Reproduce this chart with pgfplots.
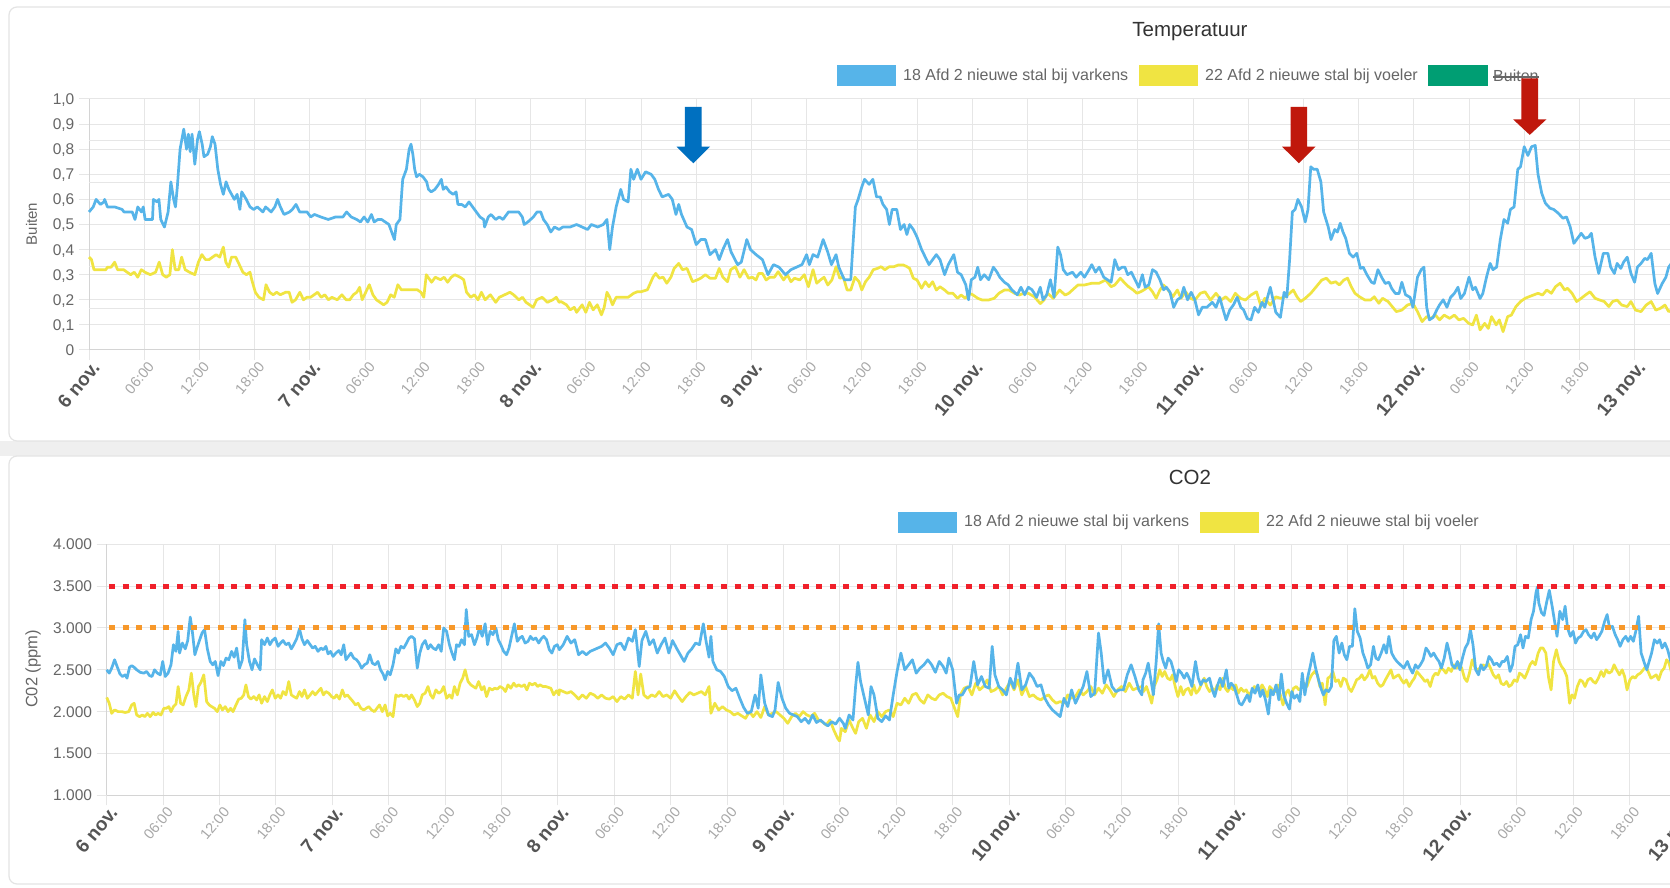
\documentclass[border=0pt]{standalone}
\usepackage{pgfplots}
\pgfplotsset{compat=1.18}
\usepackage{fontspec}
\setmainfont{Liberation Sans}
\definecolor{sky}{HTML}{56B4E9}
\definecolor{yel}{HTML}{F0E442}
\definecolor{grn}{HTML}{009E73}
\definecolor{gridc}{HTML}{E6E6E6}
\definecolor{axisc}{HTML}{D4D4D4}
\definecolor{labc}{HTML}{666666}
\definecolor{hourc}{HTML}{A8A8A8}
\definecolor{dayc}{HTML}{555555}
\definecolor{titc}{HTML}{333333}
\definecolor{thr}{HTML}{F0202A}
\definecolor{thro}{HTML}{F7982A}
\definecolor{arrb}{HTML}{0070C0}
\definecolor{arrr}{HTML}{C0180C}
\definecolor{cardc}{HTML}{E4E4E4}
\definecolor{bandc}{HTML}{EFEFEF}
\newcommand\Dl[1]{{\fontsize{19}{19}\selectfont\bfseries\color{dayc}#1}}
\newcommand\Hl[1]{{\fontsize{14.5}{14.5}\selectfont\color{hourc}#1}}
\pgfplotsset{
  chart/.style={
    scale only axis, clip=false,
    axis x line*=bottom, axis y line*=left,
    axis line style={-, draw=axisc, line width=1pt},
    xmin=0, xmax=180,
    xtick={0,6,...,180},
    xticklabels={\Dl{6 nov.},\Hl{06:00},\Hl{12:00},\Hl{18:00},\Dl{7 nov.},\Hl{06:00},\Hl{12:00},\Hl{18:00},\Dl{8 nov.},\Hl{06:00},\Hl{12:00},\Hl{18:00},\Dl{9 nov.},\Hl{06:00},\Hl{12:00},\Hl{18:00},\Dl{10 nov.},\Hl{06:00},\Hl{12:00},\Hl{18:00},\Dl{11 nov.},\Hl{06:00},\Hl{12:00},\Hl{18:00},\Dl{12 nov.},\Hl{06:00},\Hl{12:00},\Hl{18:00},\Dl{13 nov.},\Hl{06:00},\Hl{12:00},\Hl{18:00}},
    xmajorgrids, ymajorgrids,
    major grid style={draw=gridc, line width=1pt},
    tick align=outside, major tick length=10pt,
    tick style={draw=gridc, line width=1pt},
    xticklabel style={xshift=7pt, yshift=-4pt, rotate=50, anchor=east, inner sep=0pt},
    yticklabel style={font=\fontsize{15.5}{15.5}\selectfont, text=labc, anchor=east, inner sep=0pt, xshift=-4.5pt, text height=11pt, text depth=0pt},
  },
  dl/.style={line width=2.7pt, line join=round}
}
\begin{document}
\begin{tikzpicture}[x=1pt,y=1pt]
\fill[white] (0,0) rectangle (1670,887);
\fill[bandc] (0,431) rectangle (1670,446);
\draw[cardc, line width=1.2pt, rounded corners=8pt, fill=white] (9,446) rectangle (1720,880);
\draw[cardc, line width=1.2pt, rounded corners=8pt, fill=white] (9,3) rectangle (1720,431);
% titles
\node[font=\fontsize{20.5}{20.5}\selectfont, text=titc] at (1190,855.5) {Temperatuur};
\node[font=\fontsize{20.5}{20.5}\selectfont, text=titc] at (1190,409.5) {CO2};
% legends
\tikzset{lg/.style={anchor=west, inner sep=0pt, font=\fontsize{16}{16}\selectfont, text=labc, text height=11.5pt, text depth=3.4pt}}
\fill[sky] (837,800.5) rectangle (896,821.5);
\node[lg] at (903,811) {18 Afd 2 nieuwe stal bij varkens};
\fill[yel] (1139,800.5) rectangle (1198,821.5);
\node[lg] at (1205,811) {22 Afd 2 nieuwe stal bij voeler};
\fill[grn] (1428,800.5) rectangle (1488,821.5);
\node[lg, text depth=0pt] (bt) at (1493,811) {Buiten};
\draw[labc, line width=1.3pt] ([yshift=-1pt]bt.west) -- ([yshift=-1pt]bt.east);
\fill[sky] (898,354) rectangle (957,374.5);
\node[lg] at (964,364.3) {18 Afd 2 nieuwe stal bij varkens};
\fill[yel] (1200,354) rectangle (1259,374.5);
\node[lg] at (1266,364.3) {22 Afd 2 nieuwe stal bij voeler};
% axis titles
\node[rotate=90, font=\fontsize{15}{15}\selectfont, text=labc] at (31.5,663) {Buiten};
\node[rotate=90, font=\fontsize{16.5}{16.5}\selectfont, text=labc] at (33,218) {C02 (ppm)};
% ---------------- top chart ----------------
\begin{axis}[chart, at={(89pt,537pt)}, anchor=south west, width=1656pt, height=251pt,
  ymin=0, ymax=1, ytick={0,0.1,0.2,0.3,0.4,0.5,0.6,0.7,0.8,0.9,1},
  yticklabels={0,{0,1},{0,2},{0,3},{0,4},{0,5},{0,6},{0,7},{0,8},{0,9},{1,0}},
  extra y ticks={0.16667,0.33333,0.66667,0.83333}, extra y tick labels={},
  extra y tick style={major tick length=0pt}]
\addplot[yel, dl] coordinates {(0,0.37)(0.27,0.36)(0.54,0.32)(1.24,0.32)(1.82,0.32)(2.01,0.33)(2.40,0.33)(2.79,0.35)(3.10,0.32)(3.76,0.32)(4.14,0.31)(4.53,0.30)(4.92,0.31)(5.30,0.29)(5.69,0.32)(6.08,0.31)(6.66,0.30)(7.24,0.31)(7.63,0.35)(8.01,0.30)(8.40,0.29)(8.79,0.30)(9.06,0.40)(9.37,0.32)(9.76,0.32)(10.07,0.37)(10.45,0.32)(10.92,0.31)(11.50,0.30)(11.89,0.35)(12.27,0.38)(12.66,0.36)(13.05,0.36)(13.43,0.37)(13.82,0.38)(14.21,0.37)(14.60,0.41)(14.87,0.35)(15.18,0.33)(15.49,0.37)(15.95,0.37)(16.34,0.34)(16.72,0.31)(17.11,0.30)(17.50,0.31)(17.69,0.28)(18.08,0.23)(18.47,0.21)(18.97,0.20)(19.24,0.26)(19.63,0.23)(20.02,0.22)(20.40,0.23)(20.79,0.22)(21.37,0.23)(21.76,0.23)(22.07,0.19)(22.45,0.20)(22.92,0.23)(23.31,0.20)(23.69,0.21)(24.08,0.21)(24.47,0.22)(24.85,0.23)(25.24,0.21)(25.63,0.22)(26.02,0.20)(26.40,0.21)(26.98,0.20)(27.49,0.22)(27.95,0.20)(28.34,0.20)(28.73,0.22)(29.11,0.23)(29.42,0.25)(29.69,0.20)(30.08,0.23)(30.47,0.26)(30.86,0.22)(31.24,0.20)(31.63,0.19)(32.02,0.18)(32.40,0.19)(32.79,0.22)(33.18,0.21)(33.57,0.26)(33.95,0.24)(34.53,0.24)(35.11,0.24)(35.69,0.24)(36.08,0.23)(36.39,0.21)(36.66,0.30)(37.24,0.27)(37.63,0.29)(38.21,0.28)(38.60,0.29)(38.98,0.27)(39.37,0.29)(39.76,0.30)(40.34,0.29)(40.73,0.28)(41.04,0.23)(41.50,0.21)(41.89,0.22)(42.28,0.20)(42.66,0.23)(43.05,0.20)(43.63,0.22)(44.21,0.19)(44.60,0.21)(45.18,0.22)(45.76,0.23)(46.15,0.22)(46.73,0.20)(47.12,0.21)(47.50,0.19)(47.89,0.18)(48.28,0.17)(48.66,0.20)(49.25,0.21)(49.83,0.19)(50.41,0.20)(50.79,0.21)(51.10,0.19)(51.3,0.193)(51.9,0.18)(52.3,0.16)(52.75,0.17)(53.0,0.15)(53.6,0.18)(54.0,0.15)(54.4,0.19)(54.8,0.16)(55.25,0.18)(55.7,0.14)(56.0,0.17)(56.3,0.23)(56.6,0.21)(56.9,0.18)(57.3,0.21)(58.0,0.21)(58.6,0.21)(59.2,0.226)(59.6,0.232)(60.0,0.232)(60.7,0.24)(61.3,0.29)(61.6,0.305)(62.0,0.286)(62.4,0.29)(62.8,0.266)(63.25,0.29)(63.6,0.325)(64.1,0.345)(64.5,0.32)(65.0,0.325)(65.6,0.272)(66.1,0.279)(66.5,0.286)(67.0,0.30)(67.5,0.286)(68.1,0.286)(68.5,0.325)(68.9,0.29)(69.4,0.272)(69.75,0.32)(70.25,0.332)(70.75,0.29)(71.2,0.32)(71.7,0.286)(72.1,0.29)(72.5,0.279)(72.8,0.305)(73.2,0.305)(73.6,0.279)(74.0,0.29)(74.5,0.29)(74.9,0.312)(75.5,0.279)(75.9,0.30)(76.3,0.272)(76.7,0.286)(77.25,0.279)(77.75,0.30)(78.2,0.252)(78.7,0.32)(79.1,0.266)(79.5,0.279)(79.9,0.29)(80.3,0.259)(80.75,0.279)(81.2,0.332)(81.6,0.286)(82.0,0.29)(82.4,0.239)(82.8,0.239)(83.25,0.29)(83.7,0.272)(84.0,0.239)(84.4,0.272)(84.8,0.29)(85.25,0.32)(85.7,0.325)(86.1,0.332)(86.5,0.32)(87.0,0.332)(87.5,0.332)(88.0,0.339)(88.5,0.339)(88.9,0.332)(89.2,0.325)(89.6,0.286)(90.0,0.279)(90.5,0.246)(90.9,0.272)(91.3,0.252)(91.7,0.272)(92.1,0.239)(92.5,0.252)(93.0,0.239)(93.4,0.226)(93.9,0.226)(94.4,0.206)(94.8,0.219)(95.25,0.206)(95.7,0.226)(96.1,0.219)(96.6,0.206)(97.1,0.199)(97.75,0.199)(98.4,0.206)(98.9,0.226)(99.5,0.239)(100.0,0.239)(100.6,0.226)(101.1,0.219)(101.6,0.226)(102.1,0.226)(102.75,0.212)(103.4,0.185)(103.8,0.199)(104.2,0.226)(104.8,0.206)(105.5,0.239)(106.1,0.219)(106.5,0.226)(107.1,0.246)(107.5,0.259)(108.2,0.259)(109.0,0.266)(109.8,0.266)(110.5,0.279)(111.1,0.252)(111.5,0.259)(112.1,0.286)(112.6,0.266)(113.0,0.252)(113.5,0.239)(113.9,0.226)(114.3,0.232)(114.65,0.239)(115.15,0.252)(115.6,0.232)(116.0,0.206)(116.4,0.239)(116.8,0.259)(117.3,0.239)(117.8,0.212)(118.3,0.239)(118.7,0.206)(119.2,0.232)(119.7,0.206)(120.2,0.199)(120.8,0.226)(121.3,0.232)(121.9,0.199)(122.5,0.226)(123.05,0.199)(123.55,0.212)(124.1,0.193)(124.6,0.226)(125.15,0.206)(125.7,0.199)(126.3,0.219)(126.9,0.232)(127.4,0.173)(127.8,0.206)(128.4,0.179)(129.0,0.212)(129.5,0.206)(130.0,0.212)(130.5,0.226)(130.9,0.239)(131.3,0.212)(131.7,0.193)(132.2,0.206)(132.8,0.226)(133.1,0.239)(133.55,0.259)(134.0,0.279)(134.5,0.286)(135.0,0.266)(135.5,0.272)(135.9,0.259)(136.4,0.279)(136.8,0.286)(137.2,0.252)(137.6,0.226)(138.1,0.212)(138.7,0.199)(139.3,0.199)(139.7,0.212)(140.2,0.186)(140.6,0.206)(141.2,0.193)(141.65,0.173)(142.1,0.153)(142.7,0.159)(143.3,0.179)(143.9,0.186)(144.4,0.153)(144.9,0.113)(145.4,0.133)(145.85,0.126)(146.35,0.139)(146.8,0.12)(147.3,0.139)(147.9,0.126)(148.4,0.139)(148.9,0.12)(149.4,0.126)(149.97,0.106)(150.4,0.10)(150.8,0.139)(151.2,0.08)(151.7,0.106)(152.1,0.086)(152.45,0.133)(152.95,0.10)(153.3,0.12)(153.7,0.073)(154.2,0.133)(154.6,0.139)(155.1,0.173)(155.6,0.193)(156.1,0.206)(156.5,0.212)(157.0,0.219)(157.5,0.226)(157.99,0.219)(158.45,0.239)(158.95,0.226)(159.4,0.252)(159.9,0.266)(160.4,0.239)(160.7,0.246)(161.2,0.226)(161.7,0.193)(162.2,0.206)(162.65,0.219)(163.15,0.232)(163.7,0.206)(164.2,0.199)(164.7,0.193)(165.2,0.173)(165.6,0.193)(166.1,0.199)(166.6,0.179)(167.2,0.173)(167.6,0.193)(168.1,0.159)(168.7,0.153)(169.25,0.179)(169.8,0.193)(170.3,0.159)(170.8,0.166)(171.3,0.179)(171.7,0.153)(172.0,0.159)(172.6,0.17)};
\addplot[sky, dl] coordinates {(0,0.55)(0.46,0.57)(0.77,0.60)(1.24,0.58)(1.63,0.59)(1.7,0.60)(2.0,0.57)(2.8,0.57)(3.6,0.56)(3.8,0.55)(4.7,0.55)(5.0,0.52)(5.3,0.57)(5.7,0.55)(5.9,0.57)(6.1,0.52)(6.9,0.52)(7.0,0.60)(7.4,0.59)(7.6,0.60)(7.8,0.52)(8.2,0.49)(8.6,0.55)(8.9,0.67)(9.2,0.60)(9.4,0.57)(9.6,0.65)(9.9,0.80)(10.3,0.88)(10.6,0.80)(10.8,0.86)(11.0,0.79)(11.2,0.86)(11.5,0.74)(11.8,0.84)(12.0,0.87)(12.3,0.82)(12.5,0.77)(12.9,0.78)(13.2,0.81)(13.4,0.85)(13.7,0.82)(14.0,0.72)(14.3,0.66)(14.6,0.62)(14.9,0.67)(15.2,0.64)(15.5,0.62)(15.8,0.60)(16.1,0.62)(16.4,0.56)(16.6,0.63)(17.1,0.60)(17.5,0.57)(17.9,0.56)(18.3,0.57)(18.9,0.55)(19.2,0.57)(19.8,0.55)(20.2,0.57)(20.5,0.60)(20.8,0.57)(21.2,0.54)(21.8,0.55)(22.1,0.56)(22.5,0.58)(22.9,0.55)(23.7,0.55)(24.1,0.53)(24.5,0.54)(25.2,0.53)(26.0,0.52)(26.8,0.53)(27.6,0.53)(28.0,0.55)(28.5,0.53)(29.1,0.52)(29.5,0.51)(29.9,0.53)(30.3,0.51)(30.7,0.54)(31.0,0.51)(31.4,0.52)(31.8,0.52)(32.2,0.51)(32.6,0.50)(33.0,0.46)(33.2,0.44)(33.4,0.50)(33.8,0.52)(34.0,0.63)(34.1,0.68)(34.5,0.72)(34.8,0.80)(35.0,0.82)(35.2,0.78)(35.4,0.72)(35.6,0.69)(35.9,0.70)(36.3,0.69)(36.7,0.67)(36.9,0.64)(37.2,0.63)(37.6,0.64)(38.0,0.66)(38.3,0.68)(38.5,0.64)(38.8,0.65)(39.2,0.63)(39.6,0.62)(39.9,0.63)(40.1,0.58)(40.5,0.58)(40.9,0.57)(41.3,0.59)(41.7,0.57)(42.1,0.55)(42.5,0.53)(42.9,0.52)(43.0,0.49)(43.4,0.53)(43.7,0.54)(44.2,0.52)(44.6,0.53)(45.0,0.52)(45.6,0.55)(46.1,0.55)(46.7,0.55)(47.1,0.53)(47.3,0.50)(47.7,0.51)(48.3,0.53)(48.7,0.55)(49.1,0.55)(49.4,0.52)(49.8,0.50)(50.2,0.47)(50.6,0.49)(51.1,0.48)(51.5,0.49)(52.3,0.49)(53.0,0.50)(53.6,0.49)(54.2,0.48)(54.6,0.50)(55.3,0.49)(55.9,0.50)(56.3,0.52)(56.6,0.40)(56.9,0.49)(57.3,0.57)(57.8,0.64)(58.1,0.60)(58.6,0.59)(58.9,0.72)(59.2,0.68)(59.6,0.72)(60.0,0.68)(60.5,0.71)(61.1,0.70)(61.5,0.68)(61.9,0.64)(62.3,0.61)(63.0,0.62)(63.4,0.60)(63.8,0.54)(64.1,0.58)(64.4,0.54)(65.0,0.49)(65.5,0.48)(66.0,0.42)(66.5,0.44)(67.0,0.44)(67.5,0.38)(68.1,0.40)(68.5,0.36)(68.9,0.40)(69.4,0.44)(69.8,0.39)(70.5,0.34)(70.9,0.35)(71.5,0.44)(71.9,0.40)(72.5,0.38)(73.2,0.36)(73.8,0.30)(74.4,0.34)(75.0,0.33)(75.7,0.30)(76.3,0.32)(76.9,0.33)(77.5,0.34)(78.0,0.38)(78.3,0.34)(78.7,0.38)(79.2,0.37)(79.8,0.44)(80.3,0.39)(80.7,0.34)(81.2,0.38)(81.5,0.33)(82.1,0.28)(82.8,0.28)(83.3,0.57)(83.6,0.60)(84.0,0.65)(84.3,0.68)(84.8,0.66)(85.2,0.68)(85.6,0.61)(86.0,0.61)(86.3,0.58)(86.7,0.56)(87.0,0.50)(87.3,0.56)(87.8,0.56)(88.2,0.48)(88.6,0.50)(88.9,0.46)(89.2,0.50)(89.6,0.48)(90.0,0.45)(90.5,0.40)(90.9,0.37)(91.3,0.34)(91.7,0.36)(92.1,0.38)(92.5,0.36)(93.0,0.30)(93.4,0.34)(94.0,0.38)(94.4,0.31)(94.8,0.30)(95.3,0.26)(95.6,0.20)(95.9,0.28)(96.3,0.29)(96.6,0.33)(96.9,0.28)(97.3,0.30)(97.8,0.28)(98.3,0.33)(98.7,0.31)(99.0,0.29)(99.5,0.27)(99.9,0.26)(100.3,0.24)(100.9,0.22)(101.3,0.25)(101.7,0.22)(102.1,0.25)(102.5,0.24)(103.0,0.21)(103.4,0.25)(103.7,0.20)(104.1,0.22)(104.5,0.28)(104.9,0.21)(105.3,0.41)(105.6,0.38)(105.9,0.32)(106.3,0.30)(106.9,0.31)(107.3,0.29)(107.8,0.31)(108.2,0.29)(108.7,0.32)(109.0,0.34)(109.4,0.31)(109.8,0.33)(110.3,0.29)(110.7,0.28)(111.1,0.27)(111.5,0.36)(111.9,0.32)(112.3,0.33)(112.6,0.33)(112.9,0.30)(113.3,0.31)(113.7,0.28)(114.1,0.25)(114.5,0.30)(114.8,0.25)(115.2,0.26)(115.6,0.32)(116.0,0.31)(116.4,0.28)(116.8,0.24)(117.1,0.25)(117.5,0.23)(117.9,0.17)(118.3,0.20)(118.7,0.21)(119.0,0.25)(119.4,0.20)(119.8,0.23)(120.2,0.20)(120.6,0.14)(121.0,0.17)(121.5,0.17)(122.1,0.19)(122.5,0.17)(122.9,0.21)(123.2,0.17)(123.6,0.12)(124.0,0.16)(124.4,0.18)(124.8,0.21)(125.2,0.17)(125.5,0.16)(125.9,0.125)(126.3,0.12)(126.7,0.17)(127.1,0.15)(127.5,0.19)(127.8,0.17)(128.4,0.25)(129.0,0.15)(129.5,0.13)(129.9,0.23)(130.2,0.21)(130.5,0.36)(130.8,0.55)(131.1,0.56)(131.4,0.60)(131.8,0.57)(132.2,0.51)(132.5,0.56)(132.8,0.73)(133.1,0.72)(133.5,0.72)(133.9,0.67)(134.2,0.55)(134.7,0.49)(135.0,0.44)(135.4,0.48)(135.7,0.47)(136.0,0.505)(136.3,0.47)(136.6,0.445)(137.0,0.385)(137.4,0.37)(137.8,0.385)(138.2,0.325)(138.5,0.33)(138.9,0.30)(139.4,0.27)(139.7,0.265)(140.1,0.32)(140.5,0.29)(140.9,0.265)(141.3,0.27)(141.6,0.245)(142.0,0.225)(142.4,0.225)(142.7,0.27)(143.1,0.22)(143.6,0.21)(143.9,0.17)(144.4,0.29)(144.8,0.32)(145.1,0.33)(145.4,0.17)(145.7,0.12)(146.1,0.13)(146.5,0.16)(146.8,0.18)(147.2,0.20)(147.6,0.17)(148.0,0.21)(148.4,0.225)(148.8,0.25)(149.1,0.205)(149.5,0.225)(150.0,0.29)(150.4,0.24)(150.7,0.25)(151.2,0.205)(151.5,0.225)(151.9,0.29)(152.3,0.345)(152.6,0.32)(153.0,0.33)(153.4,0.44)(153.8,0.52)(154.2,0.505)(154.5,0.56)(154.9,0.57)(155.3,0.72)(155.6,0.73)(156.0,0.81)(156.4,0.775)(156.8,0.81)(157.2,0.815)(157.5,0.70)(157.9,0.625)(158.3,0.585)(158.8,0.565)(159.2,0.56)(159.7,0.545)(160.2,0.525)(160.6,0.53)(161.0,0.49)(161.4,0.425)(161.7,0.44)(162.2,0.465)(162.6,0.445)(163.0,0.45)(163.3,0.465)(163.7,0.37)(164.1,0.305)(164.6,0.385)(165.1,0.385)(165.4,0.33)(165.8,0.305)(166.1,0.345)(166.5,0.325)(166.8,0.35)(167.2,0.37)(167.6,0.305)(168.0,0.27)(168.3,0.33)(168.7,0.345)(169.1,0.365)(169.4,0.36)(169.8,0.385)(170.2,0.265)(170.5,0.225)(171.0,0.265)(171.4,0.29)(171.7,0.33)(172.0,0.345)(172.6,0.35)};
\fill[arrb] (axis cs:64.78,0.969) -- (axis cs:66.58,0.969) -- (axis cs:66.58,0.810) -- (axis cs:67.50,0.810) -- (axis cs:65.68,0.744) -- (axis cs:63.87,0.810) -- (axis cs:64.78,0.810) -- cycle;
\fill[arrr] (axis cs:130.6,0.969) -- (axis cs:132.4,0.969) -- (axis cs:132.4,0.810) -- (axis cs:133.32,0.810) -- (axis cs:131.5,0.744) -- (axis cs:129.69,0.810) -- (axis cs:130.6,0.810) -- cycle;
\fill[arrr] (axis cs:155.7,1.082) -- (axis cs:157.5,1.082) -- (axis cs:157.5,0.919) -- (axis cs:158.42,0.919) -- (axis cs:156.6,0.857) -- (axis cs:154.79,0.919) -- (axis cs:155.7,0.919) -- cycle;
\end{axis}
% ---------------- bottom chart ----------------
\begin{axis}[chart, at={(106.7pt,91.7pt)}, anchor=south west, width=1692pt, height=251pt,
  ymin=1000, ymax=4000, ytick={1000,1500,2000,2500,3000,3500,4000},
  yticklabels={1.000,1.500,2.000,2.500,3.000,3.500,4.000}]
\addplot[yel, dl] coordinates {(0,2170)(0.27,2100)(0.53,1980)(0.84,2020)(1.22,2000)(1.60,2000)(1.97,1990)(2.35,2000)(2.66,2080)(2.92,2100)(3.19,1960)(3.49,1940)(3.80,1960)(4.06,1940)(4.33,1980)(4.63,1940)(4.94,1990)(5.20,1960)(5.47,1980)(5.77,1960)(6.08,2040)(6.34,2040)(6.61,2060)(6.84,2000)(7.10,2060)(7.37,2090)(7.60,2300)(7.86,2100)(8.13,2080)(8.43,2180)(8.74,2260)(9.00,2460)(9.27,2200)(9.49,2060)(9.76,2300)(10.03,2350)(10.33,2440)(10.63,2120)(10.90,2080)(11.17,2060)(11.47,2040)(11.77,2000)(12.04,2080)(12.31,2020)(12.61,2060)(12.91,2000)(13.18,2040)(13.44,2000)(13.75,2080)(14.05,2150)(14.32,2160)(14.58,2200)(14.81,2320)(15.08,2180)(15.34,2150)(15.65,2180)(15.95,2140)(16.22,2200)(16.48,2100)(16.79,2180)(17.09,2120)(17.36,2200)(17.62,2260)(17.93,2160)(18.23,2200)(18.50,2160)(18.76,2240)(19.07,2200)(19.37,2360)(19.64,2200)(19.90,2180)(20.21,2160)(20.51,2240)(20.77,2180)(21.04,2260)(21.34,2160)(21.65,2200)(21.91,2240)(22.18,2200)(22.48,2240)(22.79,2280)(23.05,2200)(23.32,2240)(23.62,2220)(23.93,2180)(24.19,2160)(24.46,2200)(24.76,2150)(25.07,2260)(25.33,2180)(25.60,2200)(25.90,2160)(26.21,2120)(26.47,2080)(26.74,2100)(27.04,2040)(27.35,2020)(27.61,2040)(27.88,2060)(28.18,2020)(28.48,2000)(28.75,2040)(29.02,2080)(29.32,2000)(29.62,2080)(29.89,1950)(30.16,1980)(30.46,1940)(30.76,2200)(31.03,2180)(31.30,2200)(31.60,2180)(31.90,2200)(32.17,2150)(32.43,2200)(32.74,2140)(33.04,2060)(33.31,2100)(33.57,2200)(33.88,2220)(34.18,2300)(34.45,2200)(34.71,2160)(35.02,2260)(35.32,2220)(35.59,2240)(35.85,2300)(36.16,2160)(36.46,2200)(36.73,2160)(36.99,2300)(37.30,2200)(37.60,2340)(37.87,2400)(38.13,2500)(38.44,2360)(38.74,2320)(39.00,2300)(39.27,2280)(39.57,2360)(39.88,2260)(40.14,2300)(40.41,2180)(40.71,2280)(41.02,2260)(41.28,2280)(41.55,2270)(41.85,2300)(42.16,2280)(42.42,2240)(42.69,2320)(42.99,2280)(43.30,2340)(43.56,2300)(43.83,2320)(44.13,2300)(44.44,2320)(44.70,2260)(44.97,2340)(45.27,2320)(45.58,2340)(45.84,2300)(46.11,2320)(46.41,2300)(46.72,2300)(46.98,2290)(47.25,2280)(47.55,2200)(47.85,2250)(48.12,2200)(48.16,2260)(48.57,2240)(48.98,2220)(49.39,2240)(49.79,2200)(50.20,2150)(50.61,2200)(51.02,2160)(51.43,2220)(51.84,2200)(52.24,2160)(52.65,2200)(53.06,2160)(53.47,2150)(53.88,2180)(54.28,2120)(54.69,2180)(55.10,2150)(55.51,2200)(55.92,2160)(56.24,2480)(56.53,2200)(56.81,2450)(57.14,2200)(57.55,2160)(57.96,2200)(58.37,2180)(58.77,2240)(59.18,2180)(59.59,2200)(60.00,2160)(60.41,2250)(60.82,2180)(61.22,2120)(61.63,2180)(62.04,2230)(62.45,2200)(62.86,2220)(63.26,2240)(63.67,2200)(64.08,2300)(64.28,1980)(64.69,2100)(65.10,2020)(65.51,2060)(65.92,2020)(66.33,2000)(66.73,1960)(67.14,1980)(67.55,1950)(67.96,1920)(68.37,2000)(68.78,1940)(69.18,2000)(69.59,1930)(70.00,2060)(70.41,1960)(70.82,1980)(71.22,2000)(71.63,1960)(72.04,1920)(72.45,1860)(72.86,1940)(73.27,1980)(73.67,1940)(74.08,2000)(74.49,1960)(74.90,1940)(75.31,1980)(75.71,1900)(76.12,1880)(76.53,1840)(76.94,1900)(77.35,1780)(77.76,1680)(77.96,1650)(78.16,1800)(78.57,1760)(78.98,1900)(79.39,1800)(79.67,1740)(80.00,1880)(80.41,1920)(80.82,1800)(81.22,1960)(81.63,1880)(82.04,2000)(82.45,1940)(82.86,2000)(83.27,2020)(83.67,1940)(84.08,2100)(84.49,2080)(84.90,2160)(85.31,2100)(85.71,2200)(86.12,2220)(86.53,2140)(86.94,2100)(87.35,2200)(87.76,2160)(88.16,2140)(88.57,2200)(88.98,2220)(89.39,2180)(89.80,2160)(90.20,2040)(90.53,1940)(90.82,2200)(91.22,2280)(91.63,2300)(92.04,2200)(92.45,2340)(92.86,2260)(93.27,2300)(93.67,2380)(94.08,2240)(94.49,2260)(94.90,2300)(95.31,2200)(95.71,2280)(96.12,2360)(96.53,2260)(96.94,2380)(97.35,2200)(97.76,2300)(98.16,2180)(98.57,2200)(98.98,2160)(99.39,2140)(99.80,2180)(100.20,2200)(100.61,2140)(101.02,2100)(101.43,2120)(101.84,2100)(102.24,2200)(102.65,2160)(103.06,2180)(103.47,2260)(103.88,2200)(104.28,2240)(104.69,2300)(105.10,2200)(105.51,2280)(105.92,2220)(106.33,2320)(106.73,2260)(107.14,2180)(107.55,2260)(107.96,2300)(108.37,2240)(108.78,2340)(109.18,2260)(109.59,2280)(110.12,2300)(110.31,2240)(110.61,2300)(110.91,2200)(111.17,2100)(111.43,2300)(111.73,2380)(112.03,2500)(112.29,2420)(112.55,2480)(112.85,2400)(113.14,2380)(113.40,2440)(113.67,2300)(113.96,2180)(114.26,2300)(114.52,2200)(114.78,2260)(115.08,2280)(115.38,2200)(115.64,2320)(115.90,2220)(116.20,2260)(116.50,2340)(116.76,2400)(117.02,2300)(117.32,2240)(117.62,2280)(117.88,2240)(118.14,2320)(118.44,2260)(118.73,2400)(119.00,2280)(119.26,2240)(119.55,2300)(119.85,2260)(120.11,2320)(120.37,2220)(120.67,2280)(120.97,2240)(121.23,2260)(121.49,2200)(121.79,2240)(122.09,2300)(122.35,2280)(122.61,2240)(122.91,2320)(123.21,2260)(123.47,2180)(123.73,2300)(124.03,2260)(124.32,2240)(124.59,2320)(124.85,2200)(125.14,2080)(125.44,2220)(125.70,2260)(125.96,2180)(126.26,2280)(126.56,2300)(126.82,2260)(127.08,2280)(127.38,2340)(127.68,2300)(127.94,2380)(128.20,2440)(128.50,2480)(128.80,2440)(129.06,2300)(129.32,2340)(129.62,2080)(129.91,2400)(130.18,2420)(130.44,2480)(130.73,2360)(131.03,2380)(131.29,2300)(131.55,2400)(131.85,2380)(132.15,2280)(132.41,2240)(132.67,2300)(132.97,2380)(133.27,2400)(133.53,2440)(133.79,2380)(134.09,2420)(134.39,2500)(134.65,2400)(134.91,2420)(135.21,2340)(135.51,2300)(135.77,2320)(136.03,2380)(136.33,2440)(136.62,2500)(136.88,2400)(137.14,2420)(137.44,2440)(137.74,2380)(138.00,2340)(138.26,2380)(138.56,2300)(138.86,2360)(139.12,2400)(139.38,2480)(139.68,2440)(139.98,2400)(140.24,2360)(140.50,2380)(140.80,2300)(141.10,2420)(141.36,2460)(141.62,2440)(141.92,2520)(142.21,2500)(142.47,2460)(142.74,2520)(143.04,2480)(143.33,2560)(143.59,2520)(143.85,2580)(144.15,2520)(144.45,2400)(144.71,2360)(144.97,2460)(145.27,2620)(145.57,2520)(145.83,2500)(146.09,2520)(146.39,2560)(146.69,2540)(146.95,2580)(147.21,2520)(147.51,2440)(147.80,2400)(148.07,2440)(148.33,2340)(148.63,2320)(148.92,2360)(149.18,2300)(149.44,2320)(149.74,2380)(150.04,2360)(150.30,2460)(150.56,2440)(150.86,2400)(151.16,2480)(151.42,2560)(151.68,2600)(151.98,2560)(152.28,2700)(152.54,2760)(152.80,2760)(153.10,2700)(153.40,2400)(153.66,2260)(153.92,2600)(154.22,2740)(154.51,2600)(154.77,2540)(155.04,2500)(155.33,2420)(155.63,2100)(155.89,2200)(156.15,2160)(156.45,2300)(156.75,2380)(157.01,2360)(157.27,2300)(157.57,2380)(157.87,2400)(158.13,2360)(158.39,2340)(158.69,2400)(158.98,2480)(159.25,2420)(159.51,2500)(159.81,2460)(160.10,2480)(160.36,2560)(160.63,2500)(160.93,2440)(161.22,2500)(161.48,2420)(161.74,2260)(162.04,2380)(162.34,2420)(162.60,2400)(162.86,2440)(163.16,2460)(163.46,2500)(163.72,2540)(163.98,2480)(164.28,2400)(164.58,2420)(164.84,2440)(165.10,2380)(165.40,2480)(165.69,2520)(165.95,2620)(166.21,2580)(166.44,2480)(166.9,2500)};
\addplot[sky, dl] coordinates {(0,2500)(0.27,2460)(0.53,2520)(0.84,2620)(1.14,2530)(1.41,2450)(1.67,2420)(1.97,2440)(2.16,2400)(2.43,2530)(2.66,2550)(2.92,2530)(3.19,2500)(3.57,2470)(3.95,2460)(4.25,2480)(4.56,2430)(4.82,2420)(5.09,2500)(5.39,2460)(5.70,2440)(5.96,2600)(6.23,2420)(6.53,2460)(6.84,2560)(7.10,2800)(7.37,2720)(7.60,2960)(7.75,2700)(8.05,2820)(8.36,2750)(8.62,2850)(8.89,3130)(9.12,2950)(9.38,2680)(9.57,2750)(9.87,2850)(10.14,2940)(10.41,2980)(10.71,2750)(11.01,2600)(11.28,2560)(11.55,2600)(11.85,2430)(12.15,2600)(12.42,2550)(12.69,2640)(12.99,2620)(13.29,2720)(13.56,2650)(13.82,2760)(14.13,2520)(14.43,2620)(14.70,3100)(14.89,2800)(15.19,2600)(15.46,2500)(15.72,2630)(16.03,2560)(16.33,2500)(16.48,2860)(16.79,2800)(17.09,2880)(17.36,2800)(17.62,2850)(17.93,2880)(18.23,2780)(18.50,2820)(18.76,2850)(19.07,2800)(19.37,2820)(19.64,2750)(19.90,2800)(20.21,2870)(20.51,2990)(20.77,2870)(21.04,2800)(21.34,2850)(21.65,2800)(21.91,2760)(22.18,2780)(22.48,2720)(22.79,2760)(23.05,2740)(23.32,2780)(23.55,2690)(23.81,2720)(24.08,2660)(24.38,2700)(24.69,2730)(24.95,2680)(25.22,2800)(25.45,2620)(25.71,2660)(25.98,2700)(26.28,2640)(26.59,2620)(26.85,2580)(27.12,2520)(27.42,2560)(27.72,2580)(27.99,2680)(28.26,2580)(28.56,2560)(28.86,2600)(29.13,2500)(29.40,2450)(29.62,2380)(29.89,2480)(30.16,2440)(30.46,2560)(30.76,2750)(31.03,2700)(31.30,2780)(31.60,2760)(31.90,2820)(32.17,2880)(32.43,2900)(32.74,2870)(33.04,2520)(33.31,2700)(33.57,2800)(33.88,2850)(34.18,2750)(34.45,2800)(34.71,2760)(35.02,2740)(35.32,2800)(35.59,2720)(35.85,3000)(36.16,2960)(36.46,2800)(36.73,2700)(36.99,2620)(37.22,2800)(37.49,2780)(37.75,2860)(38.06,2800)(38.25,3220)(38.51,2900)(38.82,2920)(39.12,2800)(39.38,2880)(39.65,3000)(39.95,2900)(40.26,3050)(40.52,2800)(40.79,2960)(41.09,2920)(41.40,3000)(41.66,2860)(41.93,2800)(42.23,2720)(42.54,2680)(42.80,2760)(43.07,2900)(43.37,3050)(43.68,2840)(43.94,2880)(44.21,2900)(44.51,2820)(44.82,2840)(45.08,2900)(45.35,2860)(45.65,2880)(45.96,2820)(46.22,2870)(46.49,2900)(46.79,2860)(47.09,2740)(47.36,2700)(47.63,2780)(47.93,2800)(48.16,2740)(48.57,2800)(48.98,2900)(49.39,2820)(49.79,2860)(50.20,2680)(50.61,2720)(51.02,2680)(51.43,2720)(51.84,2740)(52.24,2760)(52.65,2780)(53.06,2820)(53.47,2760)(53.88,2680)(54.28,2800)(54.69,2820)(55.10,2740)(55.51,2880)(55.92,2840)(56.24,2980)(56.65,2540)(56.94,2850)(57.35,2960)(57.75,2800)(58.16,2860)(58.57,2700)(58.98,2800)(59.39,2880)(59.80,2700)(60.20,2850)(60.61,2760)(61.02,2680)(61.43,2600)(61.84,2700)(62.24,2750)(62.65,2820)(63.06,2800)(63.47,3050)(63.75,2850)(64.08,2650)(64.28,2900)(64.49,2600)(64.90,2500)(65.31,2480)(65.71,2420)(66.12,2300)(66.53,2250)(66.94,2280)(67.35,2160)(67.76,2050)(68.16,1980)(68.57,2000)(68.98,2200)(69.31,2040)(69.59,2440)(70.00,2100)(70.41,1960)(70.82,1940)(71.10,2020)(71.43,2350)(71.84,2160)(72.24,2040)(72.65,1980)(73.06,1960)(73.47,1940)(73.88,1880)(74.29,1920)(74.69,1860)(75.10,1960)(75.51,1870)(75.92,1900)(76.33,1860)(76.73,1830)(77.14,1880)(77.55,1850)(77.96,1920)(78.37,1860)(78.57,1800)(78.98,1960)(79.39,1900)(79.67,2300)(79.92,2590)(80.20,2360)(80.61,2160)(81.02,1960)(81.31,2300)(81.63,2200)(82.04,1920)(82.45,1880)(82.86,1950)(83.27,1900)(83.67,2200)(84.08,2480)(84.49,2700)(84.90,2500)(85.31,2560)(85.71,2620)(86.12,2460)(86.53,2520)(86.94,2560)(87.35,2620)(87.76,2560)(88.16,2470)(88.57,2600)(88.98,2540)(89.31,2460)(89.59,2640)(90.00,2500)(90.41,2100)(90.69,2200)(91.02,2200)(91.43,2280)(91.84,2300)(92.24,2600)(92.65,2320)(93.06,2420)(93.47,2300)(93.88,2280)(94.20,2780)(94.49,2440)(94.90,2300)(95.31,2260)(95.71,2200)(96.12,2400)(96.53,2280)(96.94,2580)(97.35,2260)(97.76,2320)(98.16,2460)(98.57,2400)(98.98,2300)(99.39,2320)(99.80,2160)(100.20,2080)(100.61,2020)(101.02,1980)(101.43,1940)(101.84,2160)(102.24,2060)(102.65,2260)(103.06,2100)(103.47,2200)(103.88,2300)(104.28,2480)(104.69,2180)(105.10,2220)(105.51,2940)(105.80,2700)(106.12,2340)(106.53,2500)(106.94,2300)(107.35,2240)(107.76,2260)(108.16,2260)(108.57,2440)(108.98,2560)(109.39,2420)(109.80,2260)(110.12,2200)(110.24,2380)(110.53,2460)(110.80,2580)(111.06,2400)(111.35,2200)(111.65,2600)(111.91,3050)(112.17,2700)(112.40,2600)(112.66,2520)(112.92,2640)(113.22,2600)(113.52,2480)(113.78,2360)(114.04,2500)(114.34,2460)(114.63,2400)(114.90,2460)(115.16,2400)(115.45,2300)(115.83,2600)(116.12,2400)(116.39,2320)(116.65,2380)(116.94,2360)(117.32,2400)(117.62,2260)(117.88,2180)(118.14,2300)(118.44,2400)(118.73,2300)(119.11,2500)(119.37,2280)(119.63,2340)(119.93,2300)(120.22,2200)(120.49,2100)(120.75,2080)(121.05,2140)(121.34,2200)(121.60,2120)(121.86,2280)(122.16,2220)(122.46,2320)(122.72,2180)(122.98,2260)(123.28,2140)(123.58,1970)(123.84,2260)(124.10,2200)(124.40,2320)(124.70,2140)(124.96,2450)(125.22,2200)(125.52,2100)(125.82,2030)(126.08,2240)(126.34,2160)(126.64,2200)(126.93,2120)(127.19,2460)(127.46,2200)(127.75,2400)(128.05,2550)(128.31,2700)(128.57,2540)(128.87,2400)(129.17,2280)(129.43,2200)(129.69,2260)(129.99,2240)(130.29,2300)(130.55,2850)(130.81,2900)(131.11,2700)(131.40,2820)(131.66,2680)(131.93,2620)(132.22,2780)(132.52,2780)(132.78,3230)(133.04,2960)(133.34,2880)(133.64,2700)(133.90,2620)(134.16,2520)(134.46,2560)(134.76,2780)(135.02,2640)(135.28,2620)(135.58,2700)(135.88,2800)(136.14,2700)(136.40,2900)(136.70,2700)(136.99,2640)(137.26,2600)(137.63,2560)(138.00,2520)(138.37,2600)(138.64,2520)(138.93,2460)(139.23,2560)(139.49,2520)(139.75,2560)(140.05,2620)(140.35,2760)(140.61,2720)(140.87,2660)(141.17,2700)(141.47,2640)(141.73,2600)(141.99,2520)(142.29,2640)(142.59,2820)(142.85,2700)(143.11,2560)(143.41,2520)(143.70,2600)(143.96,2500)(144.23,2640)(144.52,2760)(144.82,2820)(145.08,2980)(145.35,2800)(145.64,2500)(145.94,2440)(146.20,2560)(146.46,2500)(146.76,2540)(147.06,2660)(147.32,2620)(147.58,2560)(147.88,2580)(148.18,2540)(148.44,2600)(148.70,2600)(149.00,2660)(149.29,2480)(149.56,2560)(149.82,2780)(150.12,2800)(150.41,2920)(150.67,2760)(150.93,2900)(151.23,2880)(151.53,3100)(151.79,3200)(152.05,3420)(152.2,3490)(152.35,3300)(152.65,3180)(152.91,3150)(153.17,3300)(153.47,3450)(153.77,3260)(154.03,3080)(154.29,2900)(154.59,3200)(154.89,3100)(155.15,3260)(155.41,3000)(155.71,2900)(156.00,2960)(156.26,2820)(156.53,2880)(156.82,2900)(157.12,2960)(157.38,2980)(157.64,2920)(157.94,2880)(158.24,2940)(158.50,2860)(158.76,2900)(159.06,2960)(159.36,3080)(159.62,3160)(159.88,3000)(160.18,3020)(160.48,2920)(160.74,2860)(161.00,2780)(161.30,2860)(161.60,2900)(161.86,2840)(162.12,2900)(162.41,2840)(162.71,2980)(162.97,3140)(163.24,2700)(163.53,2600)(163.83,2500)(164.09,2600)(164.35,2700)(164.65,2860)(164.95,2820)(165.21,2860)(165.47,2760)(165.77,2820)(166.06,2740)(166.44,2580)(166.9,2600)};
\addplot[thro, line width=5pt, dash pattern=on 6pt off 7.6pt] coordinates {(0.25,3000)(180,3000)};
\addplot[thr, line width=5pt, dash pattern=on 6pt off 7.6pt] coordinates {(0.25,3500)(180,3500)};
\end{axis}
\pgfresetboundingbox
\path[use as bounding box] (0,0) rectangle (1670,887);
\end{tikzpicture}
\end{document}
